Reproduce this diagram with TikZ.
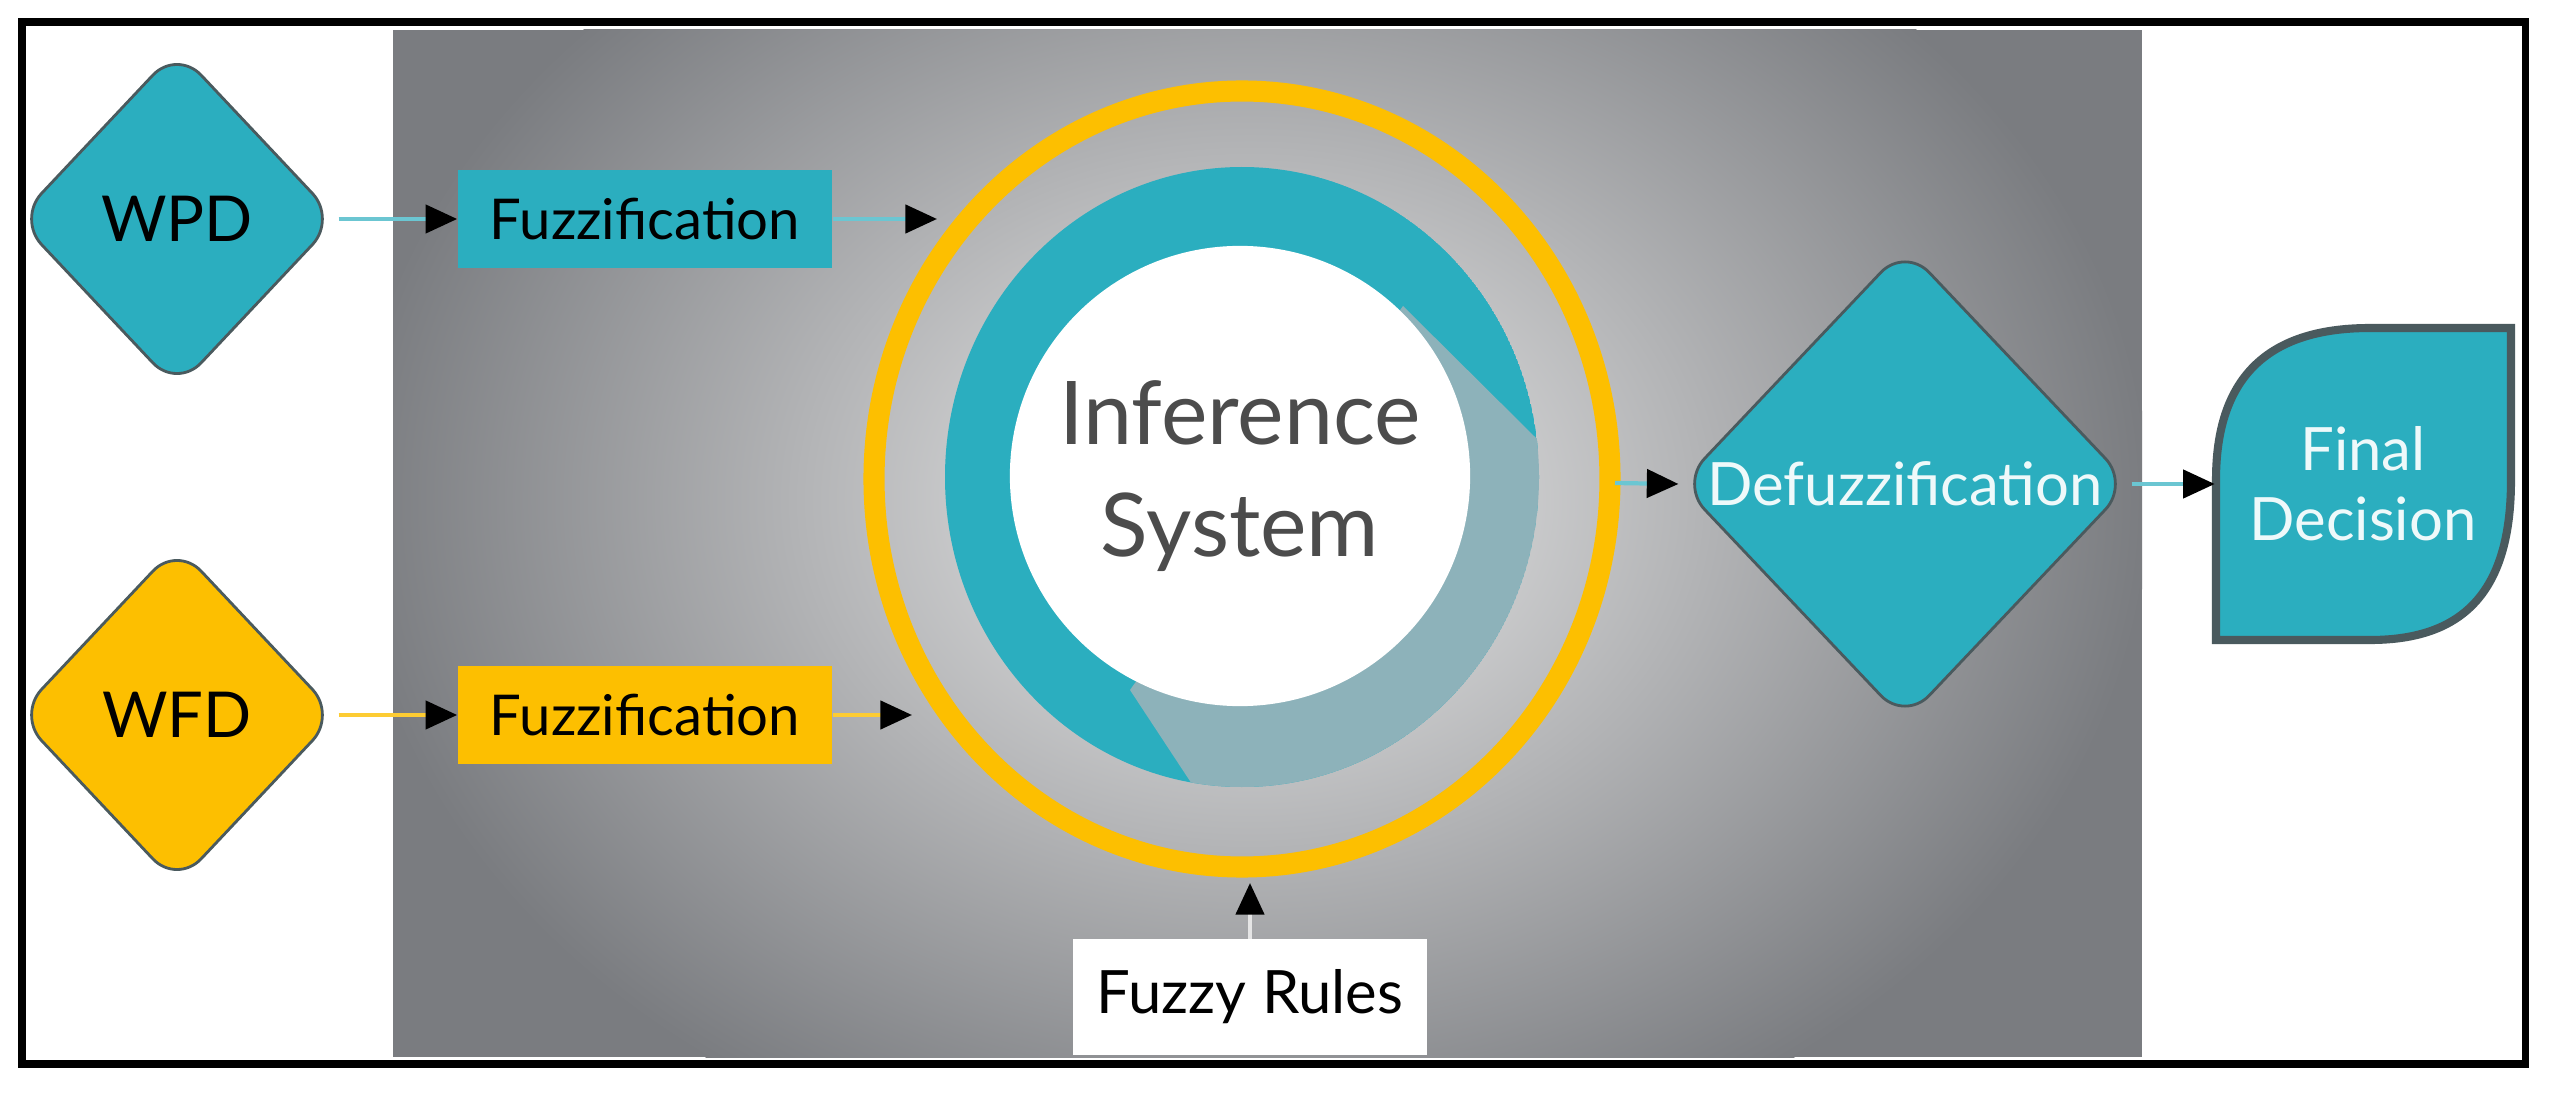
\documentclass[tikz,border=0pt]{standalone}
\usepackage{fontspec}
\setmainfont{Lato}
\usetikzlibrary{shapes.geometric,arrows.meta}
\definecolor{tealc}{HTML}{2BAEBF}
\definecolor{yell}{HTML}{FDBF00}
\definecolor{bord}{HTML}{4A5A5E}
\definecolor{shad}{HTML}{8DB2BA}
\definecolor{panel}{HTML}{7A7C80}
\begin{document}
\begin{tikzpicture}[x=0.01cm,y=-0.01cm,
  dia/.style={diamond,draw=bord,line width=0.8pt,rounded corners=10pt,inner sep=0pt},
  box/.style={rectangle,inner sep=0pt,minimum width=3.74cm,minimum height=0.98cm,font=\fontsize{16}{18}\selectfont},
  lbl/.style={font=\fontsize{17}{20}\selectfont,align=center},
  tarr/.style={draw=tealc!70!white,line width=1.2pt,-{Triangle[black,length=9pt,width=8pt]}},
  yarr/.style={draw=yell!80!white,line width=1.2pt,-{Triangle[black,length=9pt,width=8pt]}}]
\useasboundingbox (0,0) rectangle (2553,1097);
\fill[white] (0,0) rectangle (2553,1097);
\begin{scope}
\clip (393,30) rectangle (2142,1057);
\fill[panel] (393,30) rectangle (2142,1057);
\shade[inner color=gray!15,outer color=panel] (1250,500) ellipse [x radius=900,y radius=700];
\end{scope}
\draw[line width=2pt] (22,22) rectangle (2525,1064);
% inference system
\draw[yell,line width=6pt] (1242,479) ellipse [x radius=368,y radius=388];
\begin{scope}
\clip (1242,477) ellipse [x radius=297,y radius=310];
\fill[tealc] (1242,477) ellipse [x radius=297,y radius=310];
\fill[shad] (1403,306) -- (1800,700) -- (1400,1100) -- (1130,690) -- cycle;
\end{scope}
\node[circle,fill=white,minimum size=4.6cm,inner sep=0pt,
  text=black!70,font=\fontsize{25}{32}\selectfont,align=center] (inf) at (1240,476) {Inference\\System};
\coordinate (ringE) at (1615,483);
\coordinate (ringNW) at (937,219);
\coordinate (ringSW) at (912,715);
\coordinate (ringS) at (1250,883);
% inputs
\node[dia,fill=tealc,minimum width=3.2cm,minimum height=3.4cm] (wpd) at (177,219) {};
\node[font=\fontsize{18}{20}\selectfont] at (wpd.center) {WPD};
\node[dia,fill=yell,minimum width=3.2cm,minimum height=3.4cm] (wfd) at (177,715) {};
\node[font=\fontsize{18}{20}\selectfont] at (wfd.center) {WFD};
\node[box,fill=tealc] (f1) at (645,219) {Fuzzification};
\node[box,fill=yell] (f2) at (645,715) {Fuzzification};
\draw[tarr] (wpd.east) -- (f1.west);
\draw[tarr] (f1.east) -- (ringNW);
\draw[yarr] (wfd.east) -- (f2.west);
\draw[yarr] (f2.east) -- (ringSW);
% fuzzy rules
\node[box,fill=white,minimum width=3.54cm,minimum height=1.15cm,font=\fontsize{17}{20}\selectfont] (fr) at (1250,997) {Fuzzy Rules};
\draw[draw=white!80!gray,line width=1.2pt,-{Triangle[black,length=9pt,width=8pt]}] (fr.north) -- (ringS);
% defuzzification
\node[dia,fill=tealc,minimum width=4.5cm,minimum height=4.75cm] (def) at (1905,484) {};
\node[lbl,text=white!92!tealc] at (def.center) {Defuzzification};
\draw[tarr] (ringE) -- (def.west);
% final decision
\node[minimum width=2.95cm,minimum height=3.12cm,inner sep=0pt] (fin) at (2363,484) {};
\draw[fill=tealc,draw=bord,line width=2.3pt] (2216,640) -- (2216,480) .. controls (2216,380) and (2265,328) .. (2370,328) -- (2511,328) -- (2511,480) .. controls (2511,590) and (2465,640) .. (2370,640) -- cycle;
\node[lbl,text=white!92!tealc] at (fin.center) {Final\\Decision};
\draw[tarr] (def.east) -- (fin.west);
\end{tikzpicture}
\end{document}
